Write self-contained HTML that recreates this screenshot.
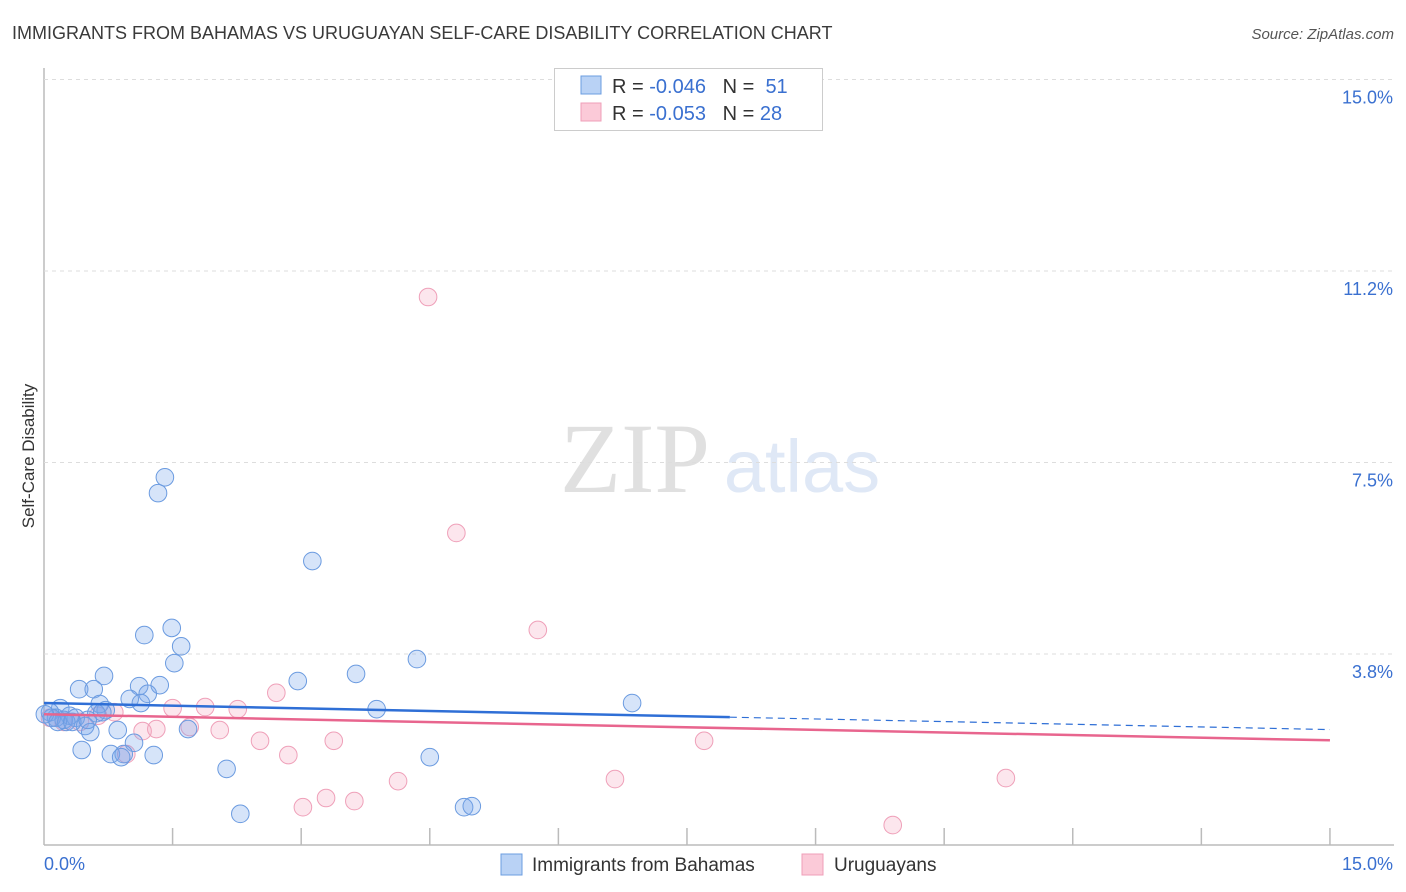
<!DOCTYPE html>
<html><head><meta charset="utf-8"><style>
body{margin:0;background:#fff;font-family:"Liberation Sans",sans-serif}
#wrap{position:relative;width:1406px;height:892px;overflow:hidden}
</style></head><body><div id="wrap">
<svg id="svg" width="1406" height="892" xmlns="http://www.w3.org/2000/svg">
<text x="12" y="39" font-size="18" fill="#3a3a3a">IMMIGRANTS FROM BAHAMAS VS URUGUAYAN SELF-CARE DISABILITY CORRELATION CHART</text>
<text x="1394" y="39" font-size="15" fill="#555" font-style="italic" text-anchor="end">Source: ZipAtlas.com</text>
<text x="635" y="492" font-size="100" fill="#e0e0e0" font-family="Liberation Serif,serif" text-anchor="middle">ZIP</text>
<text x="802" y="492" font-size="74" fill="#dfe8f6" text-anchor="middle">atlas</text>
<text transform="translate(34,456) rotate(-90)" font-size="17" fill="#333" text-anchor="middle">Self-Care Disability</text>
<g id="grid"></g><g id="marks"></g>
<g>
<rect x="554.5" y="68.5" width="268" height="62" fill="#fff" stroke="#ccc"/>
<rect x="581" y="76" width="20" height="18" fill="#b9d2f5" stroke="#6b9de0"/>
<rect x="581" y="103" width="20" height="18" fill="#fbcad8" stroke="#ef9fb8"/>
<text x="612" y="93" font-size="20" fill="#333" xml:space="preserve">R = <tspan fill="#3a70d0">-0.046</tspan>   N =  <tspan fill="#3a70d0">51</tspan></text>
<text x="612" y="120" font-size="20" fill="#333" xml:space="preserve">R = <tspan fill="#3a70d0">-0.053</tspan>   N = <tspan fill="#3a70d0">28</tspan></text>
</g>
<g>
<rect x="501" y="854" width="21" height="21" fill="#b9d2f5" stroke="#6b9de0"/>
<text x="532" y="871" font-size="19" fill="#333">Immigrants from Bahamas</text>
<rect x="802" y="854" width="21" height="21" fill="#fbcad8" stroke="#ef9fb8"/>
<text x="834" y="871" font-size="19" fill="#333">Uruguayans</text>
</g>
</svg>
<script>
const yTicks=[3.8,7.5,11.2,15.0];
const yTickVals=[3.75,7.5,11.25,15.0];
const xTickLabels=["0.0%","15.0%"];
const blueX=[1.41,1.33,3.13,1.49,1.17,1.60,1.52,4.35,0.70,3.64,2.96,0.41,0.58,1.35,1.11,1.21,1.00,1.13,6.86,3.88,0.65,0.72,0.19,0.07,0.30,0.14,0.23,0.37,0.48,0.54,0.86,1.68,1.05,0.44,0.78,0.93,0.90,1.28,4.50,2.13,4.90,4.99,2.29,0.09,0.61,0.68,0.26,0.01,0.16,0.33,0.51];
const blueY=[7.21,6.90,5.57,4.26,4.12,3.90,3.57,3.65,3.32,3.36,3.22,3.06,3.06,3.14,3.12,2.97,2.87,2.79,2.79,2.67,2.77,2.65,2.69,2.61,2.54,2.50,2.46,2.50,2.34,2.22,2.26,2.28,2.01,1.87,1.79,1.79,1.73,1.77,1.73,1.50,0.75,0.77,0.62,2.50,2.59,2.61,2.42,2.57,2.42,2.42,2.46];
const pinkX=[4.48,4.81,5.76,2.71,1.50,1.88,2.26,0.82,1.70,2.05,1.31,1.15,2.52,3.38,7.70,2.85,0.96,4.13,6.66,11.22,3.29,3.62,3.02,9.90,0.07,0.23,0.42,0.63];
const pinkY=[10.74,6.12,4.22,2.99,2.69,2.71,2.67,2.61,2.32,2.26,2.28,2.24,2.05,2.05,2.05,1.77,1.79,1.26,1.30,1.32,0.93,0.87,0.75,0.40,2.50,2.42,2.42,2.54];
const blueTrend=[2.79,2.27];
const pinkTrend=[2.57,2.06];
const NS="http://www.w3.org/2000/svg";
const xs=v=>44+v*85.73, ys=v=>845.5-v*51.07;
function mk(t,a,p){const e=document.createElementNS(NS,t);for(const k in a)e.setAttribute(k,a[k]);p.appendChild(e);return e;}
const grid=document.getElementById('grid'),marks=document.getElementById('marks');
let ax=mk('line',{x1:44,y1:68,x2:44,y2:845,stroke:'#bbb','stroke-width':1.5},grid);


let bx=mk('line',{x1:44,y1:845,x2:1394,y2:845,stroke:'#bbb','stroke-width':1.5},grid);


yTickVals.forEach((v,i)=>{
 const g=mk('line',{x1:44,y1:ys(v),x2:1394,y2:ys(v),stroke:'#ddd','stroke-dasharray':'4,4'},grid);
 
 
 const t=mk('text',{x:1393,y:ys(v)+24,'font-size':18,fill:'#3a70d0','text-anchor':'end'},grid);
 t.textContent=yTicks[i].toFixed(1)+'%';
 
 
});
for(let i=1;i<=10;i++){const l=mk('line',{x1:xs(i*1.5),y1:828,x2:xs(i*1.5),y2:845,stroke:'#bbb','stroke-width':1.5},grid);
 
 }
[[0,'start',44],[1,'end',1393]].forEach(([i,a,x])=>{const t=mk('text',{x:x,y:870,'font-size':18,fill:'#3a70d0','text-anchor':a},grid);
 t.textContent=xTickLabels[i];
 
 });
function pts(X,Y,fill,stroke,name){X.forEach((v,i)=>{const c=mk('circle',{cx:xs(v),cy:ys(Y[i]),r:8.8,fill:fill,stroke:stroke,'stroke-width':1},marks);
 
 });}
pts(pinkX,pinkY,'rgba(244,165,192,0.28)','#efa0b9','uruguayan-point');
pts(blueX,blueY,'rgba(120,165,235,0.3)','#6b9be0','bahamas-point');
const bm=blueTrend[0]+(blueTrend[1]-blueTrend[0])*(8/15);
let l1=mk('line',{x1:xs(0),y1:ys(blueTrend[0]),x2:xs(8),y2:ys(bm),stroke:'#2f6fd6','stroke-width':2.5},marks);


let l2=mk('line',{x1:xs(8),y1:ys(bm),x2:xs(15),y2:ys(blueTrend[1]),stroke:'#2f6fd6','stroke-width':1.2,'stroke-dasharray':'7,5'},marks);


let l3=mk('line',{x1:xs(0),y1:ys(pinkTrend[0]),x2:xs(15),y2:ys(pinkTrend[1]),stroke:'#e8658e','stroke-width':2.5},marks);


</script></div></body></html>
